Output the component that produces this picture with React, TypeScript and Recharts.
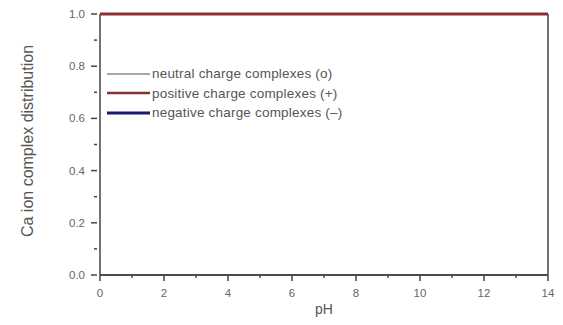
import { LineChart, Line, XAxis, YAxis, ReferenceLine } from "recharts";

const phValues = [0, 1, 2, 3, 4, 5, 6, 7, 8, 9, 10, 11, 12, 13, 14];
const neutral = [0, 0, 0, 0, 0, 0, 0, 0, 0, 0, 0, 0, 0, 0, 0];
const positive = [1, 1, 1, 1, 1, 1, 1, 1, 1, 1, 1, 1, 1, 1, 1];
const negative = [0, 0, 0, 0, 0, 0, 0, 0, 0, 0, 0, 0, 0, 0, 0];
const xTicks = [0, 1, 2, 3, 4, 5, 6, 7, 8, 9, 10, 11, 12, 13, 14];
const yTicks = [0, 0.1, 0.2, 0.3, 0.4, 0.5, 0.6, 0.7, 0.8, 0.9, 1.0];

const data = phValues.map((ph, i) => ({
  ph,
  neutral: neutral[i],
  positive: positive[i],
  negative: negative[i],
}));

const legendItems = [
  { label: "neutral charge complexes (o)", color: "#8a8a8a", width: 1.5 },
  { label: "positive charge complexes (+)", color: "#8b3030", width: 2.5 },
  { label: "negative charge complexes (\u2013)", color: "#1a1a6e", width: 3 },
];

const FONT = "'Liberation Sans', Arial, sans-serif";

const XTick = (props: any) => {
  const { x, y, payload } = props;
  const major = payload.value % 2 === 0;
  return (
    <g>
      <line x1={x} x2={x} y1={y - 8} y2={y - 8 + (major ? 6 : 3)} stroke="#444" strokeWidth={1.5} />
      {major && (
        <text x={x} y={y + 14} textAnchor="middle" fontSize={11.5} fill="#666" fontFamily={FONT}>
          {payload.value}
        </text>
      )}
    </g>
  );
};

const YTick = (props: any) => {
  const { x, y, payload } = props;
  const idx = Math.round(payload.value * 10);
  const major = idx % 2 === 0;
  return (
    <g>
      <line x1={x + 5} x2={x + 5 - (major ? 6 : 3)} y1={y} y2={y} stroke="#444" strokeWidth={1.5} />
      {major && (
        <text x={x - 7} y={y + 4} textAnchor="end" fontSize={11.5} fill="#666" fontFamily={FONT}>
          {payload.value.toFixed(1)}
        </text>
      )}
    </g>
  );
};

const YLabel = () => {
  const cx = 27;
  const cy = 141;
  return (
    <text
      x={cx}
      y={cy}
      transform={`rotate(-90, ${cx}, ${cy})`}
      textAnchor="middle"
      dominantBaseline="central"
      fontSize={16}
      fill="#555"
      fontFamily={FONT}
    >
      Ca ion complex distribution
    </text>
  );
};

export default function App() {
  return (
    <div style={{ position: "absolute", left: 0, top: 0, background: "#fff" }}>
      <LineChart
        width={563}
        height={325}
        data={data}
        margin={{ top: 14, right: 15, bottom: 0, left: 0 }}
      >
        <XAxis
          dataKey="ph"
          type="number"
          domain={[0, 14]}
          ticks={xTicks}
          interval={0}
          axisLine={{ stroke: "#444", strokeWidth: 1.5 }}
          tickLine={false}
          tick={<XTick />}
          height={50}
          label={{ value: "pH", position: "insideBottom", offset: 11, fontSize: 14, fill: "#555", fontFamily: FONT }}
        />
        <YAxis
          type="number"
          domain={[0, 1]}
          ticks={yTicks}
          interval={0}
          width={100}
          axisLine={{ stroke: "#444", strokeWidth: 1.5 }}
          tickLine={false}
          tick={<YTick />}
          label={<YLabel />}
        />
        <ReferenceLine x={14} stroke="#444" strokeWidth={1.5} />
        <ReferenceLine y={1} stroke="#333" strokeWidth={1.5} />
        <Line dataKey="negative" stroke="#1a1a6e" strokeWidth={1.5} dot={false} isAnimationActive={false} />
        <Line dataKey="neutral" stroke="#6a6a6a" strokeWidth={1.5} dot={false} isAnimationActive={false} />
        <Line dataKey="positive" stroke="#8b3030" strokeWidth={3} dot={false} isAnimationActive={false} />
      </LineChart>
      <div
        style={{
          position: "absolute",
          left: 107,
          top: 64,
          fontFamily: FONT,
          fontSize: 13.5,
          color: "#555",
          whiteSpace: "nowrap",
        }}
      >
        {legendItems.map((it) => (
          <div key={it.label} style={{ display: "flex", alignItems: "center", height: 19.5 }}>
            <svg width={43} height={8}>
              <line x1={0} x2={43} y1={4} y2={4} stroke={it.color} strokeWidth={it.width} />
            </svg>
            <span style={{ marginLeft: 2, letterSpacing: 0.2 }}>{it.label}</span>
          </div>
        ))}
      </div>
    </div>
  );
}
